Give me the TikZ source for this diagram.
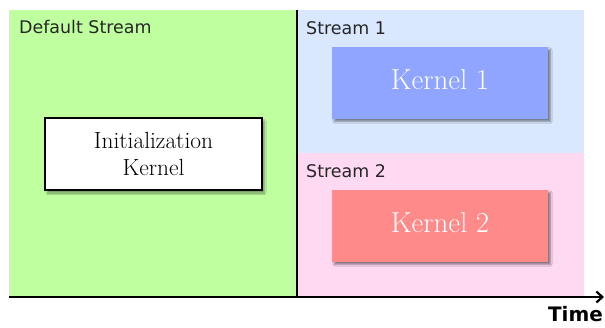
\documentclass[tikz,border=0pt]{standalone}
\usepackage{fontspec}
\newfontfamily\labelfont{DejaVu Sans}
\usetikzlibrary{shadows.blur,arrows.meta}
\definecolor{defaultbg}{RGB}{191,255,160}
\definecolor{streamonebg}{RGB}{217,232,255}
\definecolor{streamtwobg}{RGB}{255,217,242}
\definecolor{kernelone}{RGB}{143,165,255}
\definecolor{kerneltwo}{RGB}{255,138,138}
\tikzset{
  streamlabel/.style={font=\labelfont\fontsize{17.5}{20}\selectfont, anchor=base west, inner sep=0pt, text=black!85},
  kernelbox/.style={minimum width=216bp, minimum height=72bp, inner sep=0pt,
    font=\fontsize{29}{32}\selectfont, text=white,
    blur shadow={shadow xshift=2.5bp, shadow yshift=-3bp, shadow blur steps=6, shadow opacity=45}},
  initbox/.style={draw=black, line width=1.6bp, fill=white, minimum width=217bp, minimum height=72bp,
    inner sep=0pt, align=center, font=\fontsize{23.5}{28}\selectfont,
    blur shadow={shadow xshift=2.5bp, shadow yshift=-3bp, shadow blur steps=6, shadow opacity=40}},
  axisline/.style={line width=2.6bp, black}
}
\begin{document}
\begin{tikzpicture}[x=1bp, y=-1bp]
  \useasboundingbox (0,0) rectangle (605,327);
  % stream regions
  \fill[defaultbg] (9,10) rectangle (297,297);
  \fill[streamonebg] (297,10) rectangle (584,153);
  \fill[streamtwobg] (297,153) rectangle (584,297);
  % stream labels
  \node[streamlabel] (lbldefault) at (19,33) {Default Stream};
  \node[streamlabel] (lblone) at (306,34) {Stream 1};
  \node[streamlabel] (lbltwo) at (306,177) {Stream 2};
  % kernels
  \node[initbox] (init) at (153.5,154) {Initialization\\Kernel};
  \node[kernelbox, fill=kernelone] (k1) at (440,82.5) {\raisebox{6bp}{Kernel 1}};
  \node[kernelbox, fill=kerneltwo] (k2) at (440,225.5) {\raisebox{6bp}{Kernel 2}};
  % time axes
  \coordinate (origin) at (9,297);
  \coordinate (tend) at (604,297);
  \coordinate (vtop) at (297,10);
  \coordinate (vbot) at (297,297);
  \draw[axisline] (vtop) -- (vbot);
  \draw[axisline, -{Straight Barb[length=6bp,width=11bp,line width=2.2bp]}] (origin) -- (tend);
  \node[font=\labelfont\bfseries\fontsize{20}{22}\selectfont, anchor=base east, inner sep=0pt] (time) at (603,321) {Time};
\end{tikzpicture}
\end{document}
